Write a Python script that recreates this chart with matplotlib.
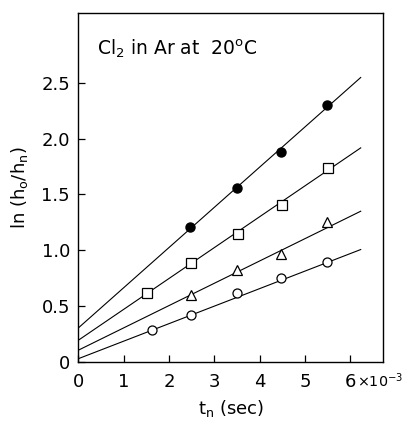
# Cl2 in Ar at 20 C: ln(h0/hn) against tn, four runs with straight-line fits

import numpy as np
import matplotlib.pyplot as plt

# measured points (tn in units of 1e-3 s)
t_filled = [2.47, 3.51, 4.47, 5.49]
y_filled = [1.21, 1.56, 1.88, 2.30]

t_square = [1.51, 2.48, 3.53, 4.49, 5.50]
y_square = [0.62, 0.89, 1.15, 1.41, 1.74]

t_tri = [2.48, 3.51, 4.48, 5.49]
y_tri = [0.60, 0.82, 0.97, 1.25]

t_circle = [1.62, 2.48, 3.51, 4.47, 5.49]
y_circle = [0.29, 0.42, 0.62, 0.75, 0.90]

# fitted lines: value at tn = 0 and at the end of the drawn line
fit_t = [0.0, 6.23]
fit_filled = [0.305, 2.547]
fit_square = [0.195, 1.917]
fit_tri = [0.106, 1.350]
fit_circle = [0.030, 1.007]

x_ticks = [0, 1, 2, 3, 4, 5, 6]
x_ticklabels = ['0', '1', '2', '3', '4', '5', '6']
y_ticks = [0, 0.5, 1.0, 1.5, 2.0, 2.5]
y_ticklabels = ['0', '0.5', '1.0', '1.5', '2.0', '2.5']

plt.rcParams['font.family'] = ['DejaVu Sans']

fig = plt.figure(figsize=(4.03, 4.21), dpi=100)
ax = fig.add_axes([0.1943, 0.140, 0.757, 0.828])

lw = 0.8
for ys in (fit_filled, fit_square, fit_tri, fit_circle):
    ax.plot(fit_t, ys, color='black', linewidth=lw, zorder=2)

ax.plot(t_filled, y_filled, 'o', ms=6.5, mfc='black', mec='black', zorder=3)
ax.plot(t_square, y_square, 's', ms=7, mfc='white', mec='black', mew=0.9, zorder=3)
ax.plot(t_tri, y_tri, '^', ms=7, mfc='white', mec='black', mew=0.9, zorder=3)
ax.plot(t_circle, y_circle, 'o', ms=6.5, mfc='white', mec='black', mew=0.9, zorder=3)

ax.set_xlim(0, 6.73)
ax.set_ylim(0, 3.12)
ax.set_xticks(x_ticks)
ax.set_xticklabels(x_ticklabels)
ax.set_yticks(y_ticks)
ax.set_yticklabels(y_ticklabels)
ax.tick_params(direction='in', length=5, width=0.9, labelsize=13)
ax.tick_params(axis='x', pad=8)
ax.tick_params(axis='y', pad=6)
for sp in ax.spines.values():
    sp.set_linewidth(1.0)

# exponent written after the last x tick label, on the same baseline
ax.annotate(r'$\times$10$^{-3}$', xy=(6, 0), xycoords=('data', 'axes fraction'),
            xytext=(4.6, -18.3), textcoords='offset points', ha='left',
            va='baseline', fontsize=10.3)

ax.text(0.06, 0.90, r'Cl$_2$ in Ar at  20$^{\rm o}$C', transform=ax.transAxes,
        fontsize=13.5, ha='left', va='center')

ax.set_xlabel(r't$_{\rm n}$ (sec)', fontsize=13, labelpad=5)
ax.set_ylabel(r'ln (h$_{\rm o}$/h$_{\rm n}$)', fontsize=13, labelpad=8)

fig.savefig('out.png', dpi=100)
